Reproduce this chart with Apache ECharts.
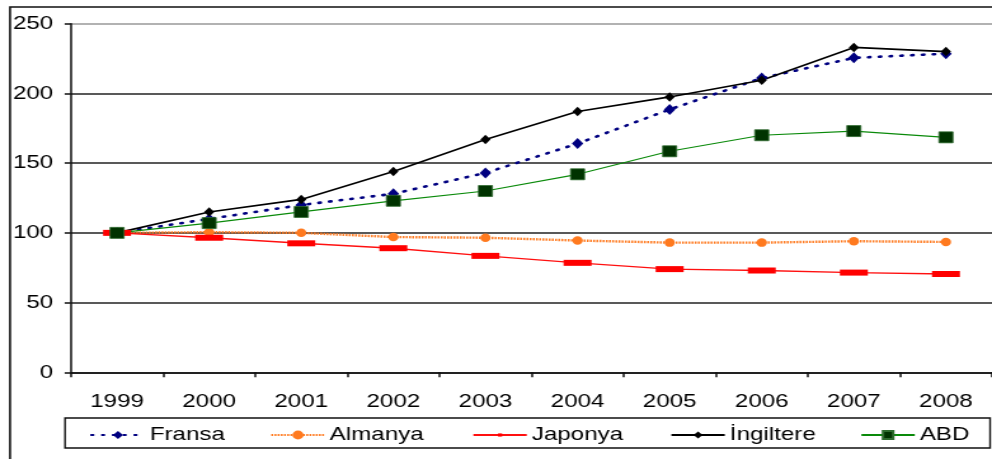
<!DOCTYPE html>
<html>
<head>
<meta charset="utf-8">
<script src="https://cdn.jsdelivr.net/npm/echarts@6/dist/echarts.min.js"></script>
<style>
  html, body { margin: 0; padding: 0; background: #fff; overflow: hidden; }
  #wrap { width: 992px; height: 459px; overflow: hidden; }
  /* the chart is laid out on a narrower canvas and widened horizontally */
  #chart { width: 781px; height: 459px; transform: scaleX(1.27017); transform-origin: 0 0; }
</style>
</head>
<body>
<div id="wrap"><div id="chart"></div></div>
<script>
// Index values, 1999 = 100
const years = ['1999', '2000', '2001', '2002', '2003', '2004', '2005', '2006', '2007', '2008'];
const fransa    = [100, 110, 120, 128, 143, 164, 188.5, 211, 225.5, 228.5];
const almanya   = [100, 100.5, 100, 97, 96.5, 94.5, 93, 93, 94, 93.5];
const japonya   = [100, 96.5, 92.5, 89, 83.5, 78.5, 74, 73, 71.5, 70.5];
const ingiltere = [100, 115, 124, 144, 167, 187, 197.5, 209.5, 233, 230];
const abd       = [100, 107, 115, 123, 130, 142, 158.5, 170, 173, 168.5];
const yTicks = [0, 50, 100, 150, 200, 250];

const FONT = 'Liberation Sans';
const TEXT = '#000';

const chart = echarts.init(document.getElementById('chart'), null, { renderer: 'canvas' });

// one legend entry per box slot; the icon height sets the size of its marker
function legendAt(name, left, iconH) {
  return {
    data: [name],
    left: left,
    top: 425.5,
    padding: 0,
    itemWidth: 42,
    itemHeight: iconH,
    textStyle: { fontFamily: FONT, fontSize: 19, color: TEXT, padding: [0, 0, 0, -1] }
  };
}

chart.setOption({
  animation: false,
  backgroundColor: '#fff',
  textStyle: { fontFamily: FONT },
  grid: { left: 55.9, top: 23.7, width: 730.6, height: 348.6, containLabel: false },
  legend: [
    legendAt('Fransa', 70.9, 10),
    legendAt('Almanya', 212.6, 11),
    legendAt('Japonya', 371.7, 4),
    legendAt('İngiltere', 527.6, 9),
    legendAt('ABD', 677.2, 10)
  ],
  xAxis: {
    type: 'category',
    data: years,
    boundaryGap: true,
    axisLine: { show: true, lineStyle: { color: '#111', width: 1.5 } },
    axisTick: { show: true, length: 5, interval: 0, lineStyle: { color: '#111', width: 1.5 } },
    axisLabel: { margin: 20, fontSize: 19, color: TEXT, fontFamily: FONT, interval: 0 },
    splitLine: { show: false }
  },
  yAxis: {
    type: 'value',
    min: yTicks[0],
    max: yTicks[yTicks.length - 1],
    interval: yTicks[1] - yTicks[0],
    axisLine: { show: true, lineStyle: { color: '#111', width: 1.5 } },
    axisTick: { show: true, length: 5, lineStyle: { color: '#111', width: 1.5 } },
    axisLabel: { margin: 14, fontSize: 19, color: TEXT, fontFamily: FONT },
    splitLine: { show: true, lineStyle: { color: ['#222', '#222', '#222', '#222', '#222', '#999'], width: 1.5 } }
  },
  graphic: [
    { // outer frame of the chart area
      type: 'rect', z: 100, silent: true,
      shape: { x: 7.9, y: 7, width: 900, height: 500 },
      style: { fill: null, stroke: '#111', lineWidth: 1.6 }
    },
    { // frame around the legend row
      type: 'rect', z: 100, silent: true,
      shape: { x: 51.2, y: 418, width: 728.3, height: 30 },
      style: { fill: null, stroke: '#111', lineWidth: 1.4 }
    }
  ],
  series: [
    {
      name: 'Fransa', type: 'line', data: fransa,
      symbol: 'diamond', symbolSize: [9, 11],
      lineStyle: { color: '#000080', width: 2.6, type: [1.5, 7], cap: 'round' },
      itemStyle: { color: '#000080' }
    },
    {
      name: 'Almanya', type: 'line', data: almanya,
      symbol: 'circle', symbolSize: [8, 8.5],
      lineStyle: { color: '#FF7A1F', width: 2.4, type: [1.5, 1] },
      itemStyle: { color: '#FF7A1F' }
    },
    {
      name: 'Japonya', type: 'line', data: japonya,
      symbol: 'rect', symbolSize: [22, 6],
      lineStyle: { color: '#FF1010', width: 1.4 },
      itemStyle: { color: '#FF0000' }
    },
    {
      name: 'İngiltere', type: 'line', data: ingiltere,
      symbol: 'diamond', symbolSize: [8, 9.5],
      lineStyle: { color: '#000', width: 1.6 },
      itemStyle: { color: '#000' }
    },
    {
      name: 'ABD', type: 'line', data: abd,
      symbol: 'rect', symbolSize: [11, 11],
      lineStyle: { color: '#0A8A0A', width: 1.2 },
      itemStyle: { color: '#003300', borderColor: '#2E6B2E', borderWidth: 0.8 }
    }
  ]
});
</script>
</body>
</html>
